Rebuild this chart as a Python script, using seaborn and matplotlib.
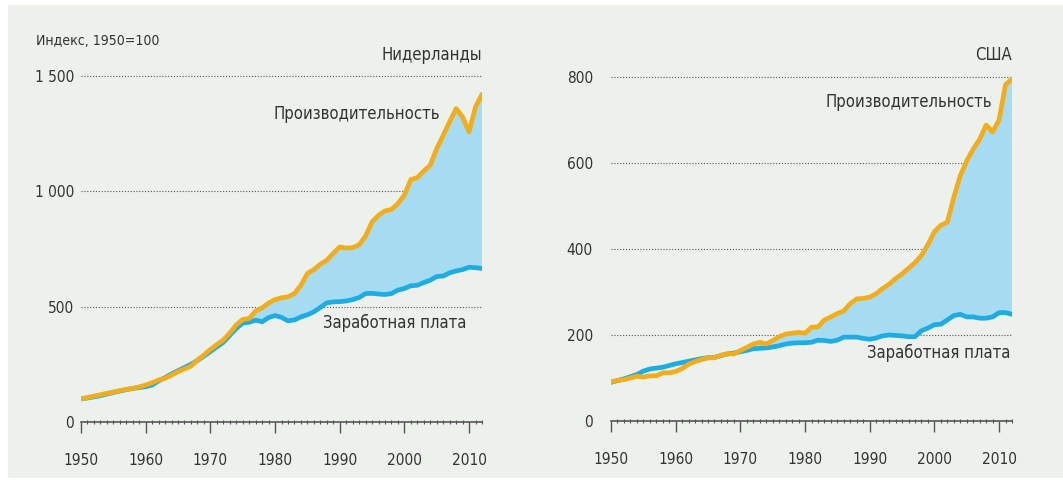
import numpy as np
import pandas as pd
import matplotlib
matplotlib.use("Agg")
import matplotlib.pyplot as plt
import matplotlib.ticker as mticker
from matplotlib import font_manager
from matplotlib.patches import Rectangle
import seaborn as sns

# ---------------------------------------------------------------------------
# Data (index, 1950 = 100)
# ---------------------------------------------------------------------------
years = list(range(1950, 2013))

nl_productivity = [
    100, 106, 112, 118, 124, 130, 136, 141, 146, 152,
    160, 170, 182, 189, 203, 218, 230, 242, 268, 290,
    314, 335, 355, 385, 420, 444, 448, 480, 494, 515,
    530, 538, 542, 556, 592, 643, 660, 683, 700, 730,
    758, 753, 755, 767, 805, 866, 895, 914, 920, 946,
    982, 1050, 1058, 1087, 1112, 1184, 1241, 1300, 1357, 1320,
    1256, 1364, 1419,
]
nl_wages = [
    100, 104, 109, 114, 121, 128, 134, 140, 145, 149,
    153, 160, 178, 192, 208, 222, 236, 250, 266, 285,
    305, 325, 345, 375, 405, 428, 432, 441, 434, 452,
    461, 453, 438, 442, 455, 464, 477, 496, 516, 520,
    521, 524, 530, 539, 556, 557, 554, 552, 556, 571,
    578, 590, 592, 604, 614, 630, 632, 646, 654, 660,
    670, 668, 665,
]

us_productivity = [
    91, 94, 96, 100, 104, 102, 105, 105, 112, 112,
    115, 122, 132, 138, 143, 147, 147, 153, 156, 156,
    164, 171, 179, 183, 179, 187, 196, 202, 204, 206,
    204, 218, 219, 235, 242, 250, 256, 273, 284, 285,
    288, 296, 308, 318, 331, 342, 355, 368, 385, 410,
    440, 455, 462, 520, 570, 605, 632, 655, 688, 672,
    700, 782, 795,
]
us_wages = [
    90, 94, 98, 103, 108, 116, 121, 123, 125, 129,
    133, 136, 139, 142, 145, 147, 148, 152, 156, 158,
    161, 164, 168, 169, 170, 172, 175, 179, 181, 182,
    182, 183, 188, 187, 185, 188, 195, 195, 195, 192,
    190, 193, 198, 200, 199, 198, 196, 196, 210, 216,
    224, 225, 235, 245, 248, 242, 242, 239, 239, 242,
    252, 252, 248,
]

panels = [
    ("Нидерланды", nl_productivity, nl_wages, [0, 500, 1000, 1500], ["0", "500", "1 000", "1 500"], 1550),
    ("США", us_productivity, us_wages, [0, 200, 400, 600, 800], ["0", "200", "400", "600", "800"], 830),
]

# ---------------------------------------------------------------------------
# Style
# ---------------------------------------------------------------------------
BG = "#EDF1EB"
ORANGE = "#F2AD1F"
BLUE = "#1EACE3"
FILL = "#A6DCF2"
TEXT = "#333333"

sns.set_theme(style="white")

# the original uses a condensed sans; pick one if it is installed
names = {f.name for f in font_manager.fontManager.ttflist}
condensed = {f.name for f in font_manager.fontManager.ttflist
             if f.stretch in ("condensed", "semi-condensed") or "Narrow" in f.name
             or "Condensed" in f.name}
if "Liberation Sans Narrow" in names:
    family, stretch, scale = "Liberation Sans Narrow", "normal", 1.0
elif "DejaVu Sans" in condensed:
    family, stretch, scale = "DejaVu Sans", "condensed", 0.92
else:
    family, stretch, scale = "Liberation Sans", "normal", 0.85

plt.rcParams["font.family"] = [family, "DejaVu Sans"]
plt.rcParams["font.stretch"] = stretch
plt.rcParams["text.color"] = TEXT

fs_tick = 12 * scale
fs_lab = 13 * scale

fig = plt.figure(figsize=(10.63, 4.83), dpi=100)
fig.patch.set_facecolor("white")
fig.patches.append(Rectangle((8 / 1063, 5 / 483), 1055 / 1063, 473 / 483,
                             transform=fig.transFigure, facecolor=BG,
                             edgecolor="none", zorder=-10))

ax_left = fig.add_axes([81 / 1063, 61 / 483, 401 / 1063, 358 / 483])
ax_right = fig.add_axes([611 / 1063, 62 / 483, 401 / 1063, 357 / 483])

for ax, (title, prod, wage, yticks, ylabels, ytop), ypad in zip(
        [ax_left, ax_right], panels, [5, 13]):
    df = pd.DataFrame({"year": years, "prod": prod, "wage": wage})
    ax.set_facecolor("none")

    ax.fill_between(df["year"], df["wage"], df["prod"],
                    where=df["prod"] >= df["wage"], interpolate=True,
                    color=FILL, linewidth=0, zorder=1)
    sns.lineplot(data=df, x="year", y="wage", ax=ax, color=BLUE,
                 linewidth=3.4, zorder=3)
    sns.lineplot(data=df, x="year", y="prod", ax=ax, color=ORANGE,
                 linewidth=3.4, zorder=4)

    ax.set_xlim(1950, 2012)
    ax.set_ylim(0, ytop)
    for yv in yticks[1:]:
        ax.axhline(yv, color="#555555", linestyle=(0, (1, 1.6)),
                   linewidth=0.8, zorder=0)

    ax.set_yticks(yticks)
    ax.set_yticklabels(ylabels)
    ax.set_xticks(range(1950, 2011, 10))
    ax.xaxis.set_minor_locator(mticker.MultipleLocator(1))
    ax.tick_params(axis="y", length=0, pad=ypad, labelsize=fs_tick, labelcolor=TEXT)
    ax.tick_params(axis="x", which="major", direction="out", length=8,
                   width=1.0, color="#555555", pad=14, labelsize=fs_tick,
                   labelcolor=TEXT, bottom=True)
    ax.tick_params(axis="x", which="minor", direction="inout", length=3,
                   width=0.8, color="#555555", bottom=True)

    for side in ["top", "right", "left"]:
        ax.spines[side].set_visible(False)
    ax.spines["bottom"].set_color("#555555")
    ax.spines["bottom"].set_linewidth(1.2)
    ax.set_xlabel("")
    ax.set_ylabel("")

    ax.text(2012, ytop, title, ha="right", va="bottom",
            fontsize=fs_lab, color=TEXT, clip_on=False)

# series labels
ax_left.text(2005.5, 1332, "Производительность", ha="right", va="center",
             fontsize=fs_lab, color=TEXT)
ax_left.text(1987.4, 428, "Заработная плата", ha="left", va="center",
             fontsize=fs_lab, color=TEXT)
ax_right.text(2008.9, 742, "Производительность", ha="right", va="center",
              fontsize=fs_lab, color=TEXT)
ax_right.text(2011.7, 158, "Заработная плата", ha="right", va="center",
              fontsize=fs_lab, color=TEXT)

fig.text(36 / 1063, 1 - 41 / 483, "Индекс, 1950=100", ha="left", va="center",
         fontsize=11 * scale, fontfamily=[family, "DejaVu Sans"],
         fontstretch=stretch, color=TEXT)

fig.savefig("out.png", dpi=100, facecolor=fig.get_facecolor())
